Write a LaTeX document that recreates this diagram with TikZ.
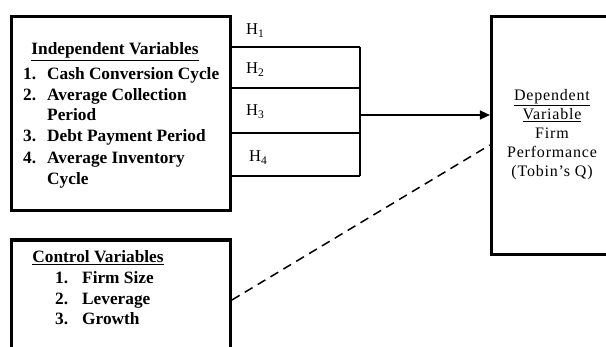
\documentclass[tikz,border=0pt]{standalone}
\usepackage{fontspec}
\setmainfont{Liberation Serif}
\usetikzlibrary{arrows.meta}
\begin{document}
\begin{tikzpicture}[x=1pt,y=-1pt,
  bigbox/.style={draw, line width=3.4pt, inner sep=0pt},
  thin/.style={line width=1.5pt},
  lbl/.style={anchor=base west, inner sep=0pt, font=\fontsize{17.3}{21}\selectfont\bfseries},
  hdr/.style={anchor=base, inner sep=0pt, font=\fontsize{17.3}{21}\selectfont\bfseries},
  hlab/.style={anchor=base west, inner sep=0pt, font=\fontsize{16.5}{18}\selectfont},
  dvt/.style={anchor=base, inner sep=0pt, font=\fontsize{16}{19}\selectfont\addfontfeature{LetterSpace=5}},
  arr/.style={thin, -{Triangle[length=10pt,width=9pt]}},
  dashline/.style={line width=1.5pt, dash pattern=on 9pt off 6pt}
]
\useasboundingbox (0,0) rectangle (606,347);
\clip (0,0) rectangle (606,347);

% boxes
\node[bigbox, minimum width=218.5pt, minimum height=193.5pt] (indep) at (121,113.5) {};
\node[bigbox, minimum width=218.5pt, minimum height=140pt] (ctrl) at (121,309.9) {};
\node[bigbox, minimum width=156.8pt, minimum height=237.8pt] (dep) at (570,135.5) {};

% independent variables text
\node[hdr] (ihdr) at (115,55) {\underline{Independent Variables}};
\node[lbl] (i1) at (23,80) {\makebox[24pt][l]{1.}Cash Conversion Cycle};
\node[lbl] (i2) at (23,100.5) {\makebox[24pt][l]{2.}Average Collection};
\node[lbl] (i2b) at (47,121) {Period};
\node[lbl] (i3) at (23,142) {\makebox[24pt][l]{3.}Debt Payment Period};
\node[lbl] (i4) at (23,163.5) {\makebox[24pt][l]{4.}Average Inventory};
\node[lbl] (i4b) at (47,184.5) {Cycle};

% control variables text
\node[hdr] (chdr) at (98,263) {\underline{Control Variables}};
\node[lbl] (c1) at (55,284) {\makebox[27pt][l]{1.}Firm Size};
\node[lbl] (c2) at (55,304.5) {\makebox[27pt][l]{2.}Leverage};
\node[lbl] (c3) at (55,325) {\makebox[27pt][l]{3.}Growth};

% dependent variable text
\node[dvt] (d1) at (552,100.5) {\underline{Dependent}};
\node[dvt] (d2) at (552,120) {\underline{Variable}};
\node[dvt] (d3) at (552,138.5) {Firm};
\node[dvt] (d4) at (552,158) {Performance};
\node[dvt] (d5) at (552,177) {(Tobin's Q)};

% hypothesis lines
\coordinate (h1) at (360,47);
\coordinate (h2) at (360,88);
\coordinate (h3) at (360,133);
\coordinate (h4) at (360,176);
\coordinate (hm) at (360,115);
\draw[thin] (indep.east |- h1) -- (h1);
\draw[thin] (indep.east |- h2) -- (h2);
\draw[thin] (indep.east |- h3) -- (h3);
\draw[thin] (indep.east |- h4) -- (h4);
\draw[thin] (h1) -- (h4);
\draw[arr] (hm) -- (hm -| dep.west);

% H labels
\node[hlab] (H1) at (246,34.5) {H\textsubscript{1}};
\node[hlab] (H2) at (246,74) {H\textsubscript{2}};
\node[hlab] (H3) at (246,116) {H\textsubscript{3}};
\node[hlab] (H4) at (249,162) {H\textsubscript{4}};

% dashed control link
\coordinate (ds) at (232,300);
\coordinate (de) at (490,145);
\draw[dashline] (ctrl.east |- ds) -- (dep.west |- de);
\end{tikzpicture}
\end{document}
